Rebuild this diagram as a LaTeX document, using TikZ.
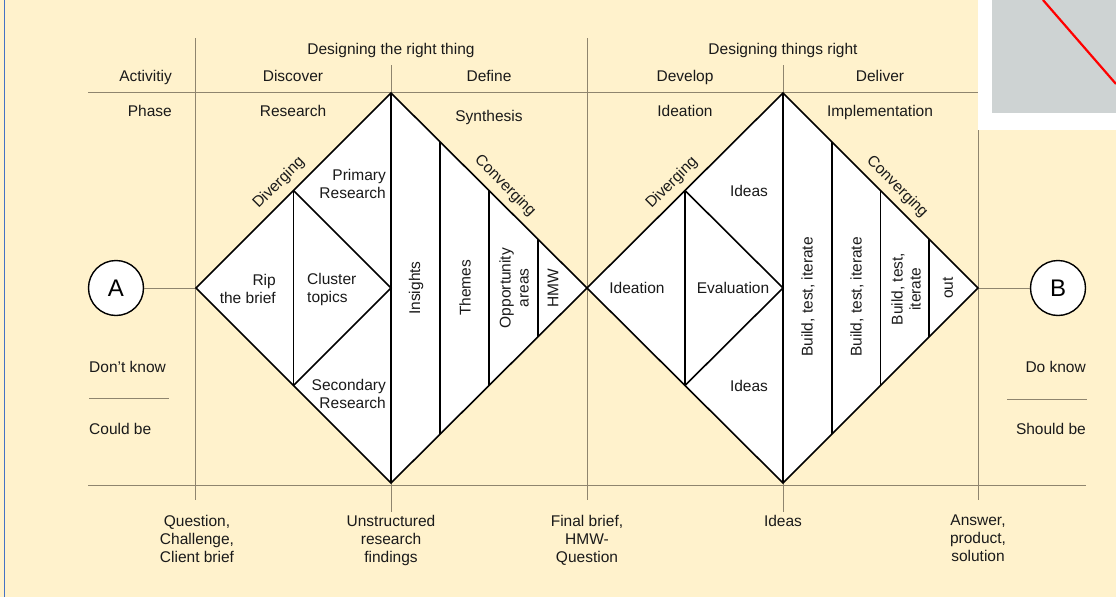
\documentclass[tikz,border=0pt]{standalone}
\usepackage{fontspec}
\setmainfont{Liberation Sans}
\usepackage{tikz}
\usetikzlibrary{calc}
\definecolor{cream}{HTML}{FFF2CC}
\definecolor{gridline}{HTML}{8F856E}
\definecolor{ink}{HTML}{1A1A1A}
\definecolor{panel}{HTML}{CED3D3}
\definecolor{frame}{HTML}{4472C4}

\begin{document}
\begin{tikzpicture}
  [
    x=1pt, y=-1pt,
    Text/.style={text=ink, font=\fontsize{15.5}{18}\selectfont, inner sep=0pt, align=center},
    Grid/.style={draw=gridline, line width=0.9pt},
    Edge/.style={draw=black, line width=1.6pt},
    Diamond/.style={draw=black, fill=white, line width=1.6pt, line join=miter},
    Round/.style={circle, draw=black, fill=white, line width=1.4pt, minimum size=55pt, inner sep=0pt, font=\fontsize{24}{24}\selectfont}
  ]
  \useasboundingbox (0,0) rectangle (1116,597);
  % Background
  \fill[cream] (0,0) rectangle (1116,597);
  \draw[frame, line width=1.5pt] (4.5,0) -- (4.5,597);

  % Grid
  \path[Grid] (88,92) -- (1086,92);
  \path[Grid] (88,485) -- (1086,485);
  \path[Grid] (195,38) -- (195,500);
  \path[Grid] (391,65) -- (391,512);
  \path[Grid] (587,38) -- (587,500);
  \path[Grid] (783,65) -- (783,512);
  \path[Grid] (978,38) -- (978,500);
  \path[Grid] (89,398) -- (169,398);
  \path[Grid] (1007,399) -- (1087,399);

  % Corner
  \fill[white] (977.5,0) rectangle (1116,130);
  \fill[panel] (992,0) rectangle (1116,113);
  \draw[red, line width=2.2pt] (1043,0) -- (1116,84);

  % Corners of the diamonds
  \coordinate (d1l) at (196,288);
  \coordinate (d1t) at (391,93);
  \coordinate (d1r) at (587,288);
  \coordinate (d1b) at (391,483);
  \coordinate (d1m) at (391,288);
  \coordinate (d2l) at (587,288);
  \coordinate (d2t) at (783,93);
  \coordinate (d2r) at (978,288);
  \coordinate (d2b) at (783,483);
  \coordinate (d2m) at (783,288);
  \coordinate (d1a) at ($(d1l)!.5!(d1t)$);
  \coordinate (d1c) at ($(d1l)!.5!(d1b)$);
  \coordinate (d2a) at ($(d2l)!.5!(d2t)$);
  \coordinate (d2c) at ($(d2l)!.5!(d2b)$);

  % Nodes
  \node[Round] (A) at(116, 288) {A};
  \node[Round] (B) at(1058, 288) {B};

  % Lines
  \path [Grid] (A) -- (d1l);
  \path [Grid] (d2r) -- (B);
  \path [Diamond] (d1l) -- (d1t) -- (d1r) -- (d1b) -- cycle;
  \path [Diamond] (d2l) -- (d2t) -- (d2r) -- (d2b) -- cycle;
  \path [Edge] (d1a) -- (d1c);
  \path [Edge] (d1a) -- (d1m) -- (d1c);
  \path [Edge] (d1t) -- (d1b);
  \path [Edge] ($(d1t)!.25!(d1r)$) -- ($(d1b)!.25!(d1r)$);
  \path [Edge] ($(d1t)!.5!(d1r)$) -- ($(d1b)!.5!(d1r)$);
  \path [Edge] ($(d1t)!.75!(d1r)$) -- ($(d1b)!.75!(d1r)$);
  \path [Edge] (d2a) -- (d2c);
  \path [Edge] (d2a) -- (d2m) -- (d2c);
  \path [Edge] (d2t) -- (d2b);
  \path [Edge] ($(d2t)!.25!(d2r)$) -- ($(d2b)!.25!(d2r)$);
  \path [Edge] ($(d2t)!.5!(d2r)$) -- ($(d2b)!.5!(d2r)$);
  \path [Edge] ($(d2t)!.75!(d2r)$) -- ($(d2b)!.75!(d2r)$);

  % Headings
  \node[Text, anchor=base] (rightthing) at(391, 54) {Designing the right thing};
  \node[Text, anchor=base] (thingsright) at(783, 54) {Designing things right};
  \node[Text, anchor=base east] (activity) at(172, 81) {Activitiy};
  \node[Text, anchor=base] (discover) at(293, 81) {Discover};
  \node[Text, anchor=base] (define) at(489, 81) {Define};
  \node[Text, anchor=base] (develop) at(685, 81) {Develop};
  \node[Text, anchor=base] (deliver) at(880, 81) {Deliver};
  \node[Text, anchor=base east] (phase) at(172, 116) {Phase};
  \node[Text, anchor=base] (research) at(293, 116) {Research};
  \node[Text, anchor=base] (synthesis) at(489, 121) {Synthesis};
  \node[Text, anchor=base] (ideation) at(685, 116) {Ideation};
  \node[Text, anchor=base] (implementation) at(880, 116) {Implementation};

  % Sides
  \node[Text, anchor=base west] (dontknow) at(89, 372) {Don't know};
  \node[Text, anchor=base west] (couldbe) at(89, 434) {Could be};
  \node[Text, anchor=base east] (doknow) at(1086, 372) {Do know};
  \node[Text, anchor=base east] (shouldbe) at(1086, 434) {Should be};

  % Outcomes
  \node[Text, anchor=north] (question) at(197, 515) {Question,\\Challenge,\\Client brief};
  \node[Text, anchor=north] (unstructured) at(391, 515) {Unstructured\\research\\findings};
  \node[Text, anchor=north] (finalbrief) at(587, 515) {Final brief,\\HMW-\\Question};
  \node[Text, anchor=north] (ideasout) at(783, 515) {Ideas};
  \node[Text, anchor=north] (answer) at(978, 515) {Answer,\\product,\\solution};

  % Inside the diamonds
  \node[Text, rotate=45] (diverge1) at(279, 183) {Diverging};
  \node[Text, rotate=-45] (converge1) at(505, 186) {Converging};
  \node[Text, rotate=45] (diverge2) at(672, 183) {Diverging};
  \node[Text, rotate=-45] (converge2) at(897, 187) {Converging};
  \node[Text, align=right, anchor=east] (primary) at(386, 184) {Primary\\Research};
  \node[Text, align=right, anchor=east] (rip) at(276, 289) {Rip\\the brief};
  \node[Text, align=left, anchor=west] (cluster) at(307, 289) {Cluster\\topics};
  \node[Text, align=right, anchor=east] (secondary) at(386, 394) {Secondary\\Research};
  \node[Text, rotate=90] (insights) at(416, 288) {Insights};
  \node[Text, rotate=90] (themes) at(465, 288) {Themes};
  \node[Text, rotate=90] (opportunity) at(514, 288) {Opportunity\\areas};
  \node[Text, rotate=90] (hmw) at(553, 288) {HMW};
  \node[Text, anchor=base] (ideasup) at(749, 196) {Ideas};
  \node[Text, anchor=base] (ideationin) at(637, 293) {Ideation};
  \node[Text, anchor=base] (evaluation) at(733, 293) {Evaluation};
  \node[Text, anchor=base] (ideasdown) at(749, 391) {Ideas};
  \node[Text, rotate=90] (build1) at(808, 297) {Build, test, iterate};
  \node[Text, rotate=90] (build2) at(857, 297) {Build, test, iterate};
  \node[Text, rotate=90] (build3) at(906, 289) {Build, test,\\iterate};
  \node[Text, rotate=90] (out) at(948, 288) {out};

\end{tikzpicture}
\end{document}
